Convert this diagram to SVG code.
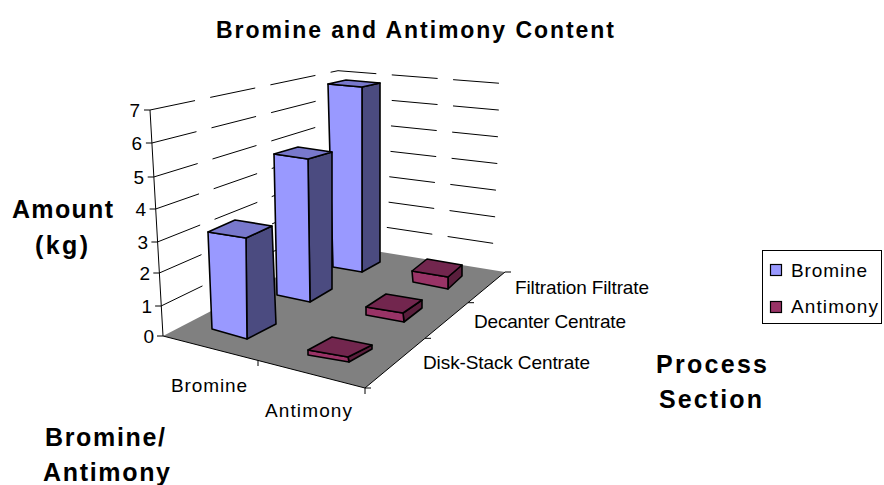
<svg xmlns="http://www.w3.org/2000/svg" width="884" height="485" viewBox="0 0 884 485">
<style>
text{font-family:"Liberation Sans",Arial,sans-serif;fill:#000}
.t{font-size:19px}
.b{font-weight:bold}
.grid{fill:none;stroke:#000;stroke-width:1;stroke-dasharray:46 15.5}
.ax{fill:none;stroke:#000;stroke-width:1}
.bar{stroke:#000;stroke-width:1.6;stroke-linejoin:round}
.bf{fill:#9999FF}.bt{fill:#7878CC}.bs{fill:#4B4B80}
.af{fill:#993366}.at{fill:#72264E}.as{fill:#5A1E3C}
</style>
<rect width="884" height="485" fill="#fff"/>
<text id="title" class="b" x="216" y="38" font-size="23" textLength="398">Bromine and Antimony Content</text>
<g id="floor"><polygon points="163,336 338,245 505,272 365,388" fill="#808080"/></g>
<g id="gridlines">
<path class="grid" d="M161.1,306 L338,220.1 L505,245.1"/>
<path class="grid" d="M159.3,273 L338,195.2 L505,218.2"/>
<path class="grid" d="M157.4,242 L338,170.3 L505,191.3"/>
<path class="grid" d="M155.6,209 L338,145.4 L505,164.4"/>
<path class="grid" d="M153.7,177 L338,120.5 L505,137.5"/>
<path class="grid" d="M151.9,143 L338,95.6 L505,110.6"/>
<path class="grid" d="M150,110 L338,70.7 L505,83.7"/>
</g>
<g id="axes">
<path class="ax" d="M163,336 L150,110"/>
<path class="ax" d="M157,336H163M155.1,306H161.1M153.3,273H159.3M151.4,242H157.4M149.6,209H155.6M147.7,177H153.7M145.9,143H151.9M144,110H150"/>
<path class="ax" stroke="#333" d="M163,336 L365,388 L505,272"/>
<path class="ax" d="M258,360.5V366M365,388V394M365,388H371M425,338.3H431M468,302.7H474M505,272H511"/>
</g>
<g id="ylabels" class="t" text-anchor="end">
<text x="154" y="343">0</text>
<text x="152" y="313">1</text>
<text x="150" y="280">2</text>
<text x="148" y="249">3</text>
<text x="146" y="216">4</text>
<text x="144" y="184">5</text>
<text x="142" y="150">6</text>
<text x="140" y="117">7</text>
</g>
<g id="bar-br-filtration" class="bar">
<polygon class="bs" points="362,87 380,83 380,262 362,272"/>
<polygon class="bf" points="328,84 362,87 362,272 333,267"/>
<polygon class="bt" points="328,84 362,87 380,83 346,80"/>
</g>
<g id="bar-sb-filtration" class="bar">
<polygon class="as" points="448,277 462,265 462,276 448,289"/>
<polygon class="af" points="412,271 448,277 448,289 413,282"/>
<polygon class="at" points="412,271 448,277 462,265 427,259"/>
</g>
<g id="bar-br-decanter" class="bar">
<polygon class="bs" points="308,159 332,152 332,289 310,302"/>
<polygon class="bf" points="274,154 308,159 310,302 277,295"/>
<polygon class="bt" points="274,154 308,159 332,152 298,147"/>
</g>
<g id="bar-sb-decanter" class="bar">
<polygon class="as" points="403,313 422,300 422,308 404,322"/>
<polygon class="af" points="366,307 403,313 404,322 366,315"/>
<polygon class="at" points="366,307 403,313 422,300 386,294"/>
</g>
<g id="bar-br-diskstack" class="bar">
<polygon class="bs" points="246,238 272,226 276,324 247,339"/>
<polygon class="bf" points="208,232 246,238 247,339 212,329"/>
<polygon class="bt" points="208,232 246,238 272,226 235,220"/>
</g>
<g id="bar-sb-diskstack" class="bar">
<polygon class="as" points="348,357 372,345 372,349 349,362"/>
<polygon class="af" points="308,350 348,357 349,362 308,355"/>
<polygon class="at" points="308,350 348,357 372,345 332,337"/>
</g>
<g id="cat-labels" class="t">
<text x="171" y="392" textLength="76">Bromine</text>
<text x="265" y="417" textLength="87">Antimony</text>
</g>
<g id="series-labels" class="t">
<text x="515" y="294" textLength="134">Filtration Filtrate</text>
<text x="474" y="328" textLength="152">Decanter Centrate</text>
<text x="423" y="369" textLength="167">Disk-Stack Centrate</text>
</g>
<g id="axis-titles" class="b" font-size="25">
<text x="12" y="218" textLength="101">Amount</text>
<text x="35" y="254" textLength="53">(kg)</text>
<text x="656" y="373" textLength="111">Process</text>
<text x="659" y="408" textLength="103">Section</text>
<text x="45" y="446" textLength="120">Bromine/</text>
<text x="43" y="481" textLength="127">Antimony</text>
</g>
<g id="legend">
<rect x="762.5" y="250.5" width="119" height="73" fill="#fff" stroke="#000" stroke-width="1"/>
<rect x="770.5" y="264.5" width="11" height="11" fill="#9999FF" stroke="#000" stroke-width="1.2"/>
<rect x="770.5" y="301.5" width="11" height="11" fill="#993366" stroke="#000" stroke-width="1.2"/>
<text class="t" x="791" y="277" textLength="76">Bromine</text>
<text class="t" x="791" y="313" textLength="87">Antimony</text>
</g>
</svg>
